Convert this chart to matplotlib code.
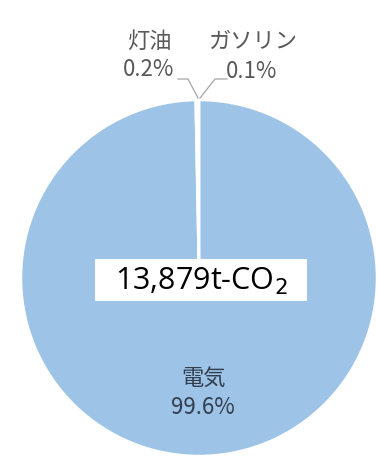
import matplotlib.pyplot as plt
import numpy as np

plt.rcParams['font.family'] = ['Noto Sans CJK JP', 'DejaVu Sans']

labels = ['電気', '灯油', 'ガソリン']
shares = [99.6, 0.2, 0.1]
total_label = '13,879t-CO$_2$'

colors = ['#9dc3e6', 'white', 'white']
label_color = '#595959'

W, H = 377, 459
fig = plt.figure(figsize=(W / 100, H / 100), dpi=100)
ax = fig.add_axes([0, 0, 1, 1])

cx, cy, r = 199, H - 278, 178
wedges, _ = ax.pie(shares, colors=colors, startangle=90, counterclock=False,
                   radius=r, center=(cx, cy),
                   wedgeprops=dict(edgecolor='white', linewidth=1.8))

ax.set_xlim(0, W)
ax.set_ylim(0, H)
ax.set_aspect('equal')
ax.axis('off')

# big slice label
ax.text(204, H - 378, labels[0], ha='center', va='center', fontsize=16, color='#333f50')
ax.text(203, H - 408, f'{shares[0]:.1f}%', ha='center', va='center', fontsize=16, color='#333f50')

# small slices with leader lines
tip = (cx - 1, cy + r + 2)
ax.plot([178, 188, tip[0]], [H - 79, H - 79, tip[1]], color='#a6a6a6', lw=0.9)
ax.plot([227, 215, tip[0] + 2], [H - 79, H - 79, tip[1]], color='#a6a6a6', lw=0.9)

ax.text(149, H - 41, labels[1], ha='center', va='center', fontsize=16, color=label_color)
ax.text(149, H - 70, f'{shares[1]:.1f}%', ha='center', va='center', fontsize=16, color=label_color)
ax.text(253, H - 41, labels[2], ha='center', va='center', fontsize=16, color=label_color)
ax.text(252, H - 71, f'{shares[2]:.1f}%', ha='center', va='center', fontsize=16, color=label_color)

# total box
ax.add_patch(plt.Rectangle((95, H - 301), 212, 42, facecolor='white', edgecolor='none', zorder=3))
ax.text(201, H - 281, total_label, ha='center', va='center', fontsize=22,
        family=['Open Sans', 'DejaVu Sans'], color='black', zorder=4)

fig.savefig('out.png', dpi=100)
